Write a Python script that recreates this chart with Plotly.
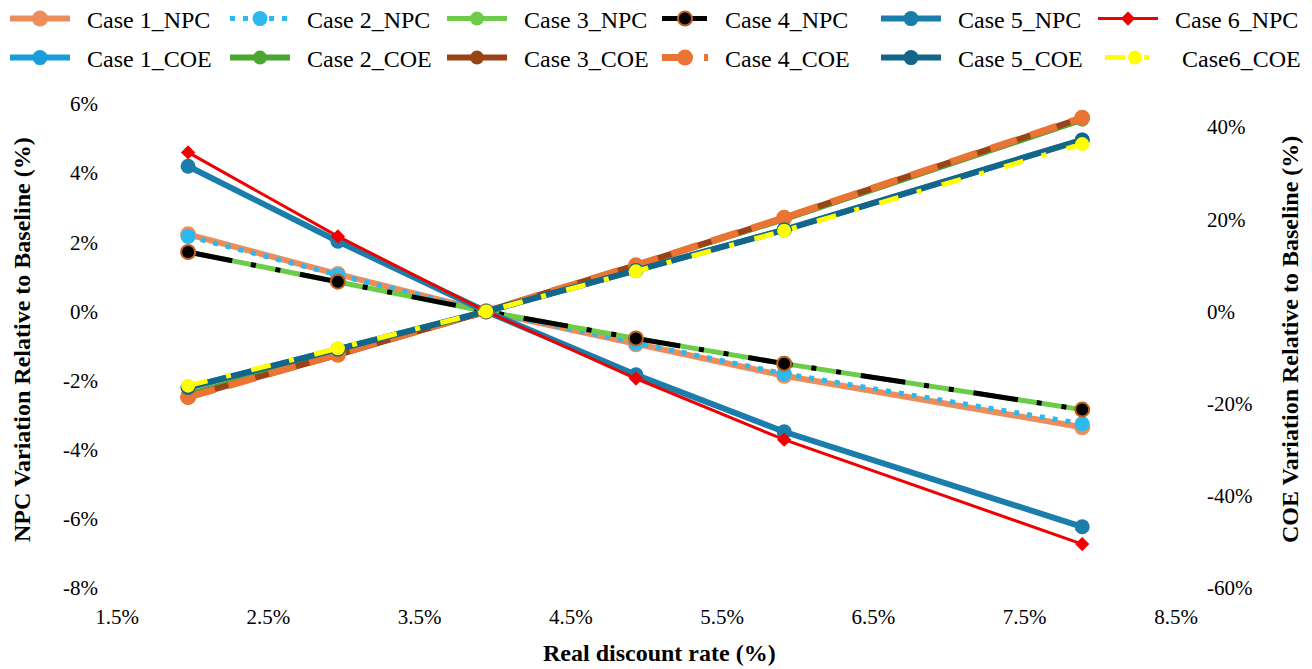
import plotly.graph_objects as go

# Real discount rate (%) for each sensitivity run
rate = [1.97, 2.96, 3.94, 4.93, 5.91, 7.88]

# NPC variation relative to baseline (%)
npc_case1 = [2.23, 1.08, 0.0, -0.95, -1.86, -3.35]
npc_case2 = [2.17, 1.05, 0.0, -0.92, -1.80, -3.25]
npc_case3 = [1.72, 0.86, 0.0, -0.78, -1.51, -2.84]
npc_case4 = [1.72, 0.86, 0.0, -0.78, -1.51, -2.84]
npc_case5 = [4.20, 2.03, 0.0, -1.83, -3.48, -6.23]
npc_case6 = [4.60, 2.17, 0.0, -1.94, -3.71, -6.73]

# COE variation relative to baseline (%)
coe_case1 = [-16.5, -8.2, 0.0, 8.9, 17.7, 37.2]
coe_case2 = [-18.0, -9.2, 0.0, 9.9, 20.0, 41.6]
coe_case3 = [-18.5, -9.4, 0.0, 10.0, 20.3, 42.0]
coe_case4 = [-18.6, -9.4, 0.0, 10.0, 20.3, 42.0]
coe_case5 = [-16.5, -8.2, 0.0, 8.9, 17.7, 37.2]
coe_case6 = [-16.1, -8.0, 0.0, 8.7, 17.5, 36.3]

# Tick values and labels
x_ticks = [1.5, 2.5, 3.5, 4.5, 5.5, 6.5, 7.5, 8.5]
x_tick_labels = ["1.5%", "2.5%", "3.5%", "4.5%", "5.5%", "6.5%", "7.5%", "8.5%"]
npc_ticks = [-8, -6, -4, -2, 0, 2, 4, 6]
npc_tick_labels = ["-8%", "-6%", "-4%", "-2%", "0%", "2%", "4%", "6%"]
coe_ticks = [-60, -40, -20, 0, 20, 40]
coe_tick_labels = ["-60%", "-40%", "-20%", "0%", "20%", "40%"]

FONT = "Liberation Serif"
W, H = 1312, 669
ML, MR, MT, MB = 117, 136, 104, 81
PW = W - ML - MR
PH = H - MT - MB
NB = "\u00a0\u00a0"

# name, values, axis, line colour, width, dash, marker symbol, size, fill, outline,
# legend text-x, legend row, legend symbol width
series = [
    ("Case 1_NPC", npc_case1, "y", "#EE8D5C", 6, "solid", "circle", 16, "#EE8D5C", "#EE8D5C", 87, 0, 60),
    ("Case 2_NPC", npc_case2, "y", "#2DB8EE", 5, "5px,8px", "circle", 15, "#2DB8EE", "#2DB8EE", 307, 0, 60),
    ("Case 3_NPC", npc_case3, "y", "#6CCB48", 5, "solid", "circle", 14, "#6CCB48", "#6CCB48", 524, 0, 60),
    ("Case 4_NPC", npc_case4, "y", "#000000", 5, "45px,19px,5px,20px,5px,20px", "circle", 14, "#000000", "#C0601E", 725, 0, 46),
    ("Case 5_NPC", npc_case5, "y", "#1A7DAB", 6, "solid", "circle", 15, "#1A7DAB", "#1A7DAB", 958, 0, 60),
    ("Case 6_NPC", npc_case6, "y", "#F00000", 3, "solid", "diamond", 11, "#F00000", "#F00000", 1175, 0, 60),
    ("Case 1_COE", coe_case1, "y2", "#1B9DD9", 6, "solid", "circle", 15, "#1B9DD9", "#1B9DD9", 87, 1, 60),
    ("Case 2_COE", coe_case2, "y2", "#4CA632", 6, "solid", "circle", 14, "#4CA632", "#4CA632", 307, 1, 60),
    ("Case 3_COE", coe_case3, "y2", "#9A4316", 6, "solid", "circle", 14, "#9A4316", "#9A4316", 524, 1, 60),
    ("Case 4_COE", coe_case4, "y2", "#E97434", 7, "28px,14px", "circle", 16, "#E97434", "#E97434", 725, 1, 46),
    ("Case 5_COE", coe_case5, "y2", "#136689", 6, "solid", "circle", 15, "#136689", "#136689", 958, 1, 60),
    ("Case6_COE", coe_case6, "y2", "#FFFF00", 5, "20px,19px,5px,21px", "circle", 14, "#FFFF00", "#FFFF00", 1182, 1, 60),
]

legend_rows_y = [19, 58]
LEGEND_SIZE = 24

fig = go.Figure()
layout_legends = {}
for i, (name, vals, yax, col, lw, dash, sym, size, fill, outline, tx, row, itemw) in enumerate(series):
    key = "legend" if i == 0 else f"legend{i + 1}"
    fig.add_trace(go.Scatter(
        x=rate, y=vals, yaxis=yax, name=NB + name, mode="lines+markers",
        line=dict(color=col, width=lw, dash=dash),
        marker=dict(symbol=sym, size=size, color=fill,
                    line=dict(color=outline, width=2 if outline != fill else 0)),
        legend=key,
    ))
    text_offset = itemw + 10 + 12  # symbol area + gap + padding spaces
    layout_legends[key] = dict(
        xref="container", yref="container",
        x=(tx - text_offset) / W, y=1 - legend_rows_y[row] / H,
        xanchor="left", yanchor="middle",
        bgcolor="rgba(0,0,0,0)", borderwidth=0,
        itemwidth=itemw, itemsizing="trace",
        font=dict(family=FONT, size=LEGEND_SIZE, color="#000000"),
    )

axis_font = dict(family=FONT, size=21, color="#000000")
title_font = dict(family=FONT, size=24, color="#000000")

# Axis titles: (text, centre x px, centre y px, angle)
axis_titles = [
    ("<b>Real discount rate (%)</b>", 659, 653, 0),
    ("<b>NPC Variation Relative to Baseline (%)</b>", 22, 340, -90),
    ("<b>COE Variation Relative to Baseline (%)</b>", 1290, 340, -90),
]
annotations = [
    dict(text=t, xref="paper", yref="paper",
         x=(px - ML) / PW, y=1 - (py - MT) / PH,
         xanchor="center", yanchor="middle", textangle=ang,
         showarrow=False, font=title_font)
    for t, px, py, ang in axis_titles
]

fig.update_layout(
    width=W, height=H,
    margin=dict(l=ML, r=MR, t=MT, b=MB, autoexpand=False),
    paper_bgcolor="white", plot_bgcolor="white",
    font=dict(family=FONT, color="#000000"),
    showlegend=True,
    annotations=annotations,
    xaxis=dict(
        range=[1.5, 8.5], tickvals=x_ticks, ticktext=x_tick_labels,
        showgrid=False, zeroline=False, showline=False, ticks="",
        tickfont=axis_font, ticklabelstandoff=14, automargin=False,
    ),
    yaxis=dict(
        range=[-8, 6], tickvals=npc_ticks, ticktext=npc_tick_labels,
        showgrid=False, zeroline=False, showline=False, ticks="",
        tickfont=axis_font, ticklabelstandoff=18, automargin=False,
    ),
    yaxis2=dict(
        range=[-60, 45], tickvals=coe_ticks, ticktext=coe_tick_labels,
        overlaying="y", side="right",
        showgrid=False, zeroline=False, showline=False, ticks="",
        tickfont=axis_font, ticklabelstandoff=30, automargin=False,
    ),
    **layout_legends,
)

fig.write_html("out.html")
